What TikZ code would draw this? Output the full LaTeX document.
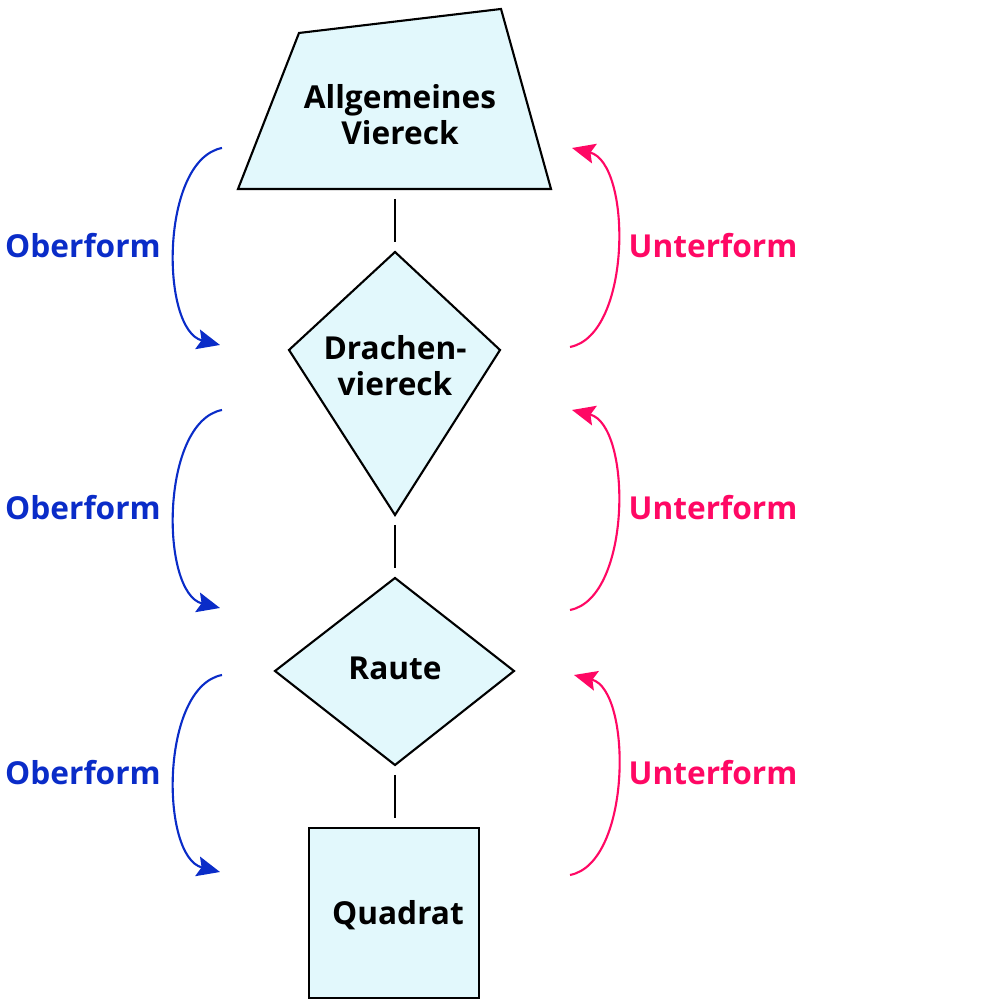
\documentclass[tikz,border=0pt]{standalone}
\usepackage{fontspec}
\setmainfont{Open Sans}
\usepackage{xcolor}
\usetikzlibrary{positioning,calc,arrows.meta}

\definecolor{oberblue}{RGB}{10,44,200}
\definecolor{unterpink}{RGB}{255,8,100}
\definecolor{formfill}{RGB}{226,248,252}

\tikzset{
    formshape/.style={draw=black, line width=0.6pt, fill=formfill, line join=miter},
    formtext/.style={align=center, font=\fontsize{9}{10.2}\selectfont\bfseries},
    link/.style={line width=0.6pt, shorten <=1mm, shorten >=1mm},
    ober/.style={oberblue, line width=0.6pt, -{Stealth[length=2.3mm,width=2mm,inset=0.4mm,fill=oberblue]}},
    unter/.style={unterpink, line width=0.6pt, -{Stealth[length=2.3mm,width=2mm,inset=0.4mm,fill=unterpink]}},
    oberlabel/.style={text=oberblue, font=\fontsize{9}{10.2}\selectfont\bfseries},
    unterlabel/.style={text=unterpink, font=\fontsize{9}{10.2}\selectfont\bfseries}
}

\begin{document}
\begin{tikzpicture}
    \useasboundingbox (0,0) rectangle (10,10);

    % Allgemeines Viereck
    \coordinate (vier-s) at (3.95,8.11);
    \draw[formshape] (2.99,9.67) -- (5.01,9.91) -- (5.51,8.11) -- (2.38,8.11) -- cycle;
    \node[formtext] (vier) at (4.00,8.85) {Allgemeines\\Viereck};

    % Drachenviereck
    \coordinate (drach-n) at (3.95,7.48);
    \coordinate (drach-s) at (3.95,4.85);
    \draw[formshape] (drach-n) -- (5.00,6.50) -- (drach-s) -- (2.89,6.50) -- cycle;
    \node[formtext] (drach) at (3.95,6.34) {Drachen-\\viereck};

    % Raute
    \coordinate (raute-n) at (3.95,4.22);
    \coordinate (raute-s) at (3.95,2.35);
    \draw[formshape] (raute-n) -- (5.14,3.29) -- (raute-s) -- (2.75,3.29) -- cycle;
    \node[formtext] (raute) at (3.95,3.32) {Raute};

    % Quadrat
    \coordinate (quad-n) at (3.95,1.72);
    \draw[formshape] (3.09,0.02) rectangle (4.79,1.72);
    \node[formtext] (quad) at (3.98,0.85) {Quadrat};

    % Verbindungen
    \draw[link] (vier-s) -- (drach-n);
    \draw[link] (drach-s) -- (raute-n);
    \draw[link] (raute-s) -- (quad-n);

    % Oberform (links)
    \coordinate (ob1a) at (2.22,8.52); \coordinate (ob1b) at (2.20,6.55);
    \coordinate (ob2a) at (2.22,5.90); \coordinate (ob2b) at (2.20,3.92);
    \coordinate (ob3a) at (2.22,3.25); \coordinate (ob3b) at (2.20,1.28);
    \draw[ober] (ob1a) .. controls (1.60,8.40) and (1.60,6.70) .. (ob1b);
    \draw[ober] (ob2a) .. controls (1.60,5.78) and (1.60,4.07) .. (ob2b);
    \draw[ober] (ob3a) .. controls (1.60,3.13) and (1.60,1.43) .. (ob3b);
    \node[oberlabel] (ober1) at (0.83,7.54) {Oberform};
    \node[oberlabel] (ober2) at (0.83,4.92) {Oberform};
    \node[oberlabel] (ober3) at (0.83,2.27) {Oberform};

    % Unterform (rechts)
    \coordinate (un1a) at (5.70,6.53); \coordinate (un1b) at (5.72,8.52);
    \coordinate (un2a) at (5.70,3.90); \coordinate (un2b) at (5.72,5.90);
    \coordinate (un3a) at (5.70,1.25); \coordinate (un3b) at (5.74,3.25);
    \draw[unter] (un1a) .. controls (6.32,6.65) and (6.32,8.37) .. (un1b);
    \draw[unter] (un2a) .. controls (6.32,4.02) and (6.32,5.75) .. (un2b);
    \draw[unter] (un3a) .. controls (6.32,1.37) and (6.32,3.10) .. (un3b);
    \node[unterlabel] (unter1) at (7.13,7.54) {Unterform};
    \node[unterlabel] (unter2) at (7.13,4.92) {Unterform};
    \node[unterlabel] (unter3) at (7.13,2.27) {Unterform};
\end{tikzpicture}
\end{document}
